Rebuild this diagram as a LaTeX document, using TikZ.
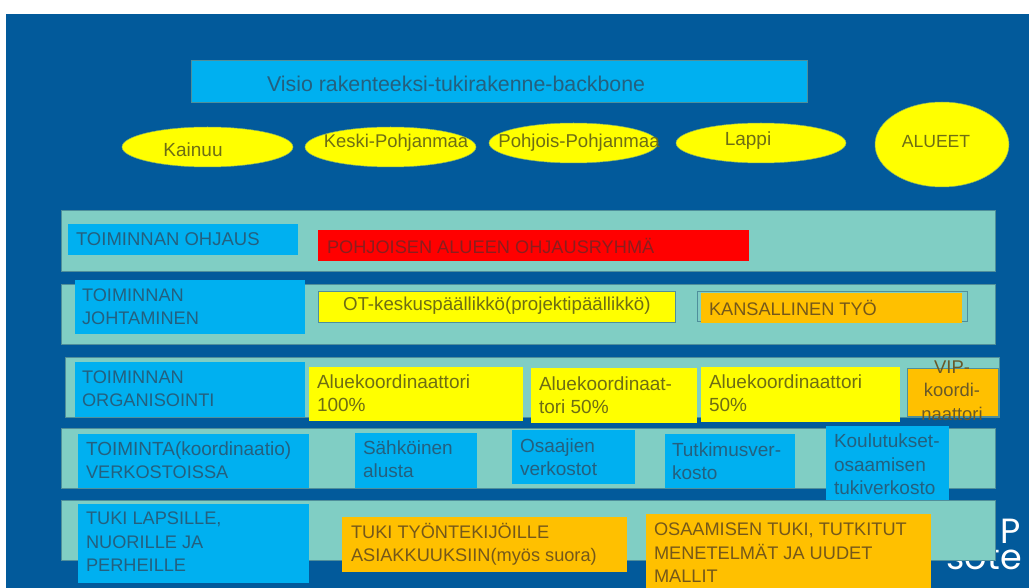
\documentclass[tikz,border=0pt]{standalone}
\usepackage{fontspec}
\usetikzlibrary{shapes.geometric}
\setmainfont{Liberation Sans}
\newfontfamily\logofont{Poppins}
\definecolor{bgblue}{HTML}{025A9B}
\definecolor{skyb}{HTML}{00B0F0}
\definecolor{tealb}{HTML}{80CEC4}
\definecolor{edgeb}{HTML}{4F8F9B}
\definecolor{yel}{HTML}{FFFF00}
\definecolor{orng}{HTML}{FFC000}
\definecolor{redb}{HTML}{FF0000}
\definecolor{onblue}{HTML}{24607F}
\definecolor{onyel}{HTML}{6E6E14}
\definecolor{onorg}{HTML}{75581A}
\definecolor{onred}{HTML}{8A1E1E}
\tikzset{
  base/.style={inner sep=0pt,outer sep=0pt,anchor=north west},
  skybox/.style={base,fill=skyb},
  skyedge/.style={base,fill=skyb,draw=edgeb,line width=.7pt},
  rowbox/.style={base,fill=tealb,draw=edgeb,line width=.8pt},
  yelbox/.style={base,fill=yel},
  yeledge/.style={base,fill=yel,draw=edgeb,line width=.8pt},
  orgbox/.style={base,fill=orng},
  outline/.style={base,draw=edgeb,line width=.8pt},
  redbox/.style={base,fill=redb},
  oval/.style={ellipse,inner sep=0pt,outer sep=0pt,fill=yel,draw=edgeb!70!yel,line width=.5pt},
  lab/.style={inner sep=0pt,outer sep=0pt,anchor=west,align=left,font=\fontsize{19}{23.4}\selectfont},
  caplab/.style={lab,font=\fontsize{18.2}{23.4}\selectfont},
  clab/.style={inner sep=0pt,outer sep=0pt,align=center,font=\fontsize{19}{23.4}\selectfont},
  logotext/.style={inner sep=0pt,text=white,font=\logofont\fontsize{35}{35}\selectfont},
}
\newcommand{\bx}[6]{% name, style, x1, y1, x2, y2
  \pgfmathsetmacro{\bw}{#5-#3}\pgfmathsetmacro{\bh}{#6-#4}
  \node[#2,minimum width=\bw pt,minimum height=\bh pt] (#1) at (#3,#4) {};}
\newcommand{\el}[5]{% name, x1, y1, x2, y2
  \pgfmathsetmacro{\bw}{#4-#2}\pgfmathsetmacro{\bh}{#5-#3}
  \pgfmathsetmacro{\cx}{(#2+#4)/2}\pgfmathsetmacro{\cy}{(#3+#5)/2}
  \node[oval,minimum width=\bw pt,minimum height=\bh pt] (#1) at (\cx,\cy) {};}
\begin{document}
\begin{tikzpicture}[x=1pt,y=-1pt]
\useasboundingbox (0,0) rectangle (1029,588);
\fill[white] (0,0) rectangle (1029,588);
\bx{bg}{base,fill=bgblue}{6}{14}{1029}{588}
% logo, partly covered by the last row
\node[logotext,anchor=base west] (logoP) at (1000.5,543) {P};
\node[logotext,anchor=base east] (logoS) at (1022,569) {sote};
% title and ovals
\bx{title}{skyedge}{191}{60}{807}{102}
\node[lab,text=onblue,font=\fontsize{21.35}{24}\selectfont] (titlet) at (267,84) {Visio rakenteeksi-tukirakenne-backbone};
\el{kai}{122}{127}{293}{167}
\el{kes}{305}{127}{476}{167}
\el{poh}{489}{123}{658}{163}
\el{lap}{676}{123}{846}{163}
\el{alu}{875}{102}{1009}{187}
\node[clab,text=onyel] (kait) at (193,150) {Kainuu};
\node[clab,text=onyel,font=\fontsize{18.4}{23.4}\selectfont] (kest) at (396,143) {Keski-Pohjanmaa};
\node[clab,text=onyel,font=\fontsize{18.6}{23.4}\selectfont] (poht) at (579,143) {Pohjois-Pohjanmaa};
\node[clab,text=onyel] (lapt) at (748,141) {Lappi};
\node[clab,text=onyel,font=\fontsize{17.6}{23.4}\selectfont] (alut) at (936,142) {ALUEET};
% row 1
\bx{r1}{rowbox}{61}{210}{995}{271}
\bx{b1}{skybox}{68}{224}{298}{255}
\node[caplab,text=onblue,font=\fontsize{18.5}{23.4}\selectfont] (b1t) at (76,239) {TOIMINNAN OHJAUS};
\bx{red}{redbox}{318}{230.5}{748.5}{261}
\node[caplab,text=onred] (redt) at (327,246) {POHJOISEN ALUEEN OHJAUSRYHMÄ};
% row 2
\bx{r2}{rowbox}{61}{284}{995}{344}
\bx{b2}{skybox}{74.5}{280}{305}{334}
\node[caplab,text=onblue] (b2t) at (82,306.5) {TOIMINNAN\\JOHTAMINEN};
\bx{ot}{yeledge}{318}{291}{675}{322}
\node[lab,text=onyel,font=\fontsize{18.7}{23.4}\selectfont] (ott) at (343,306) {OT-keskuspäällikkö(projektipäällikkö)};
\bx{kano}{outline}{697}{291}{967}{321}
\bx{kan}{orgbox}{701}{293}{962}{323}
\node[caplab,text=onorg] (kant) at (709,308) {KANSALLINEN TYÖ};
% row 3
\bx{r3}{rowbox}{65}{357}{999}{417}
\bx{b3}{skybox}{74.5}{361.5}{305}{417}
\node[caplab,text=onblue] (b3t) at (82,388.5) {TOIMINNAN\\ORGANISOINTI};
\bx{a1}{yelbox}{309}{367}{523}{421}
\node[lab,text=onyel] (a1t) at (317,393.5) {Aluekoordinaattori\\100\%};
\bx{a2}{yelbox}{531}{368}{697}{423}
\node[lab,text=onyel] (a2t) at (539,395.5) {Aluekoordinaat-\\tori 50\%};
\bx{a3}{yelbox}{701}{367}{900}{422}
\node[lab,text=onyel] (a3t) at (709,393.5) {Aluekoordinaattori\\50\%};
\bx{vip}{base,fill=orng,draw=edgeb,line width=.8pt}{907}{368}{998}{416}
\node[clab,text=onorg!85!onblue,font=\fontsize{18.4}{23.4}\selectfont] (vipt) at (952,390.5) {VIP-\\koordi-\\naattori};
% row 4
\bx{r4}{rowbox}{61}{428}{995}{488}
\bx{b4}{skybox}{78}{434}{309}{488}
\node[lab,text=onblue] (b4t) at (86,460.5) {TOIMINTA(koordinaatio)\\\fontsize{18.2}{23.4}\selectfont VERKOSTOISSA};
\bx{s1}{skybox}{355}{433}{477}{488}
\node[lab,text=onblue] (s1t) at (363,459.5) {Sähköinen\\alusta};
\bx{s2}{skybox}{512}{430}{635}{484}
\node[lab,text=onblue] (s2t) at (520,457.5) {Osaajien\\verkostot};
\bx{s3}{skybox}{665}{434}{795}{488}
\node[lab,text=onblue] (s3t) at (672,461) {Tutkimusver-\\kosto};
\bx{s4}{skybox}{826}{426}{949}{501}
\node[lab,text=onblue] (s4t) at (834,464.5) {Koulutukset-\\osaamisen\\tukiverkosto};
% row 5
\bx{r5}{rowbox}{61}{500}{995}{560}
\bx{b5}{skybox}{78}{504}{309}{583}
\node[caplab,text=onblue] (b5t) at (86,542) {TUKI LAPSILLE,\\NUORILLE JA\\PERHEILLE};
\bx{o1}{orgbox}{342}{517}{627}{572}
\node[caplab,text=onorg] (o1t) at (351,544) {TUKI TYÖNTEKIJÖILLE\\ASIAKKUUKSIIN(myös suora)};
\bx{o2}{orgbox}{646}{514}{931}{588}
\node[caplab,text=onorg] (o2t) at (654,553) {OSAAMISEN TUKI, TUTKITUT\\MENETELMÄT JA UUDET\\MALLIT};
\end{tikzpicture}
\end{document}
